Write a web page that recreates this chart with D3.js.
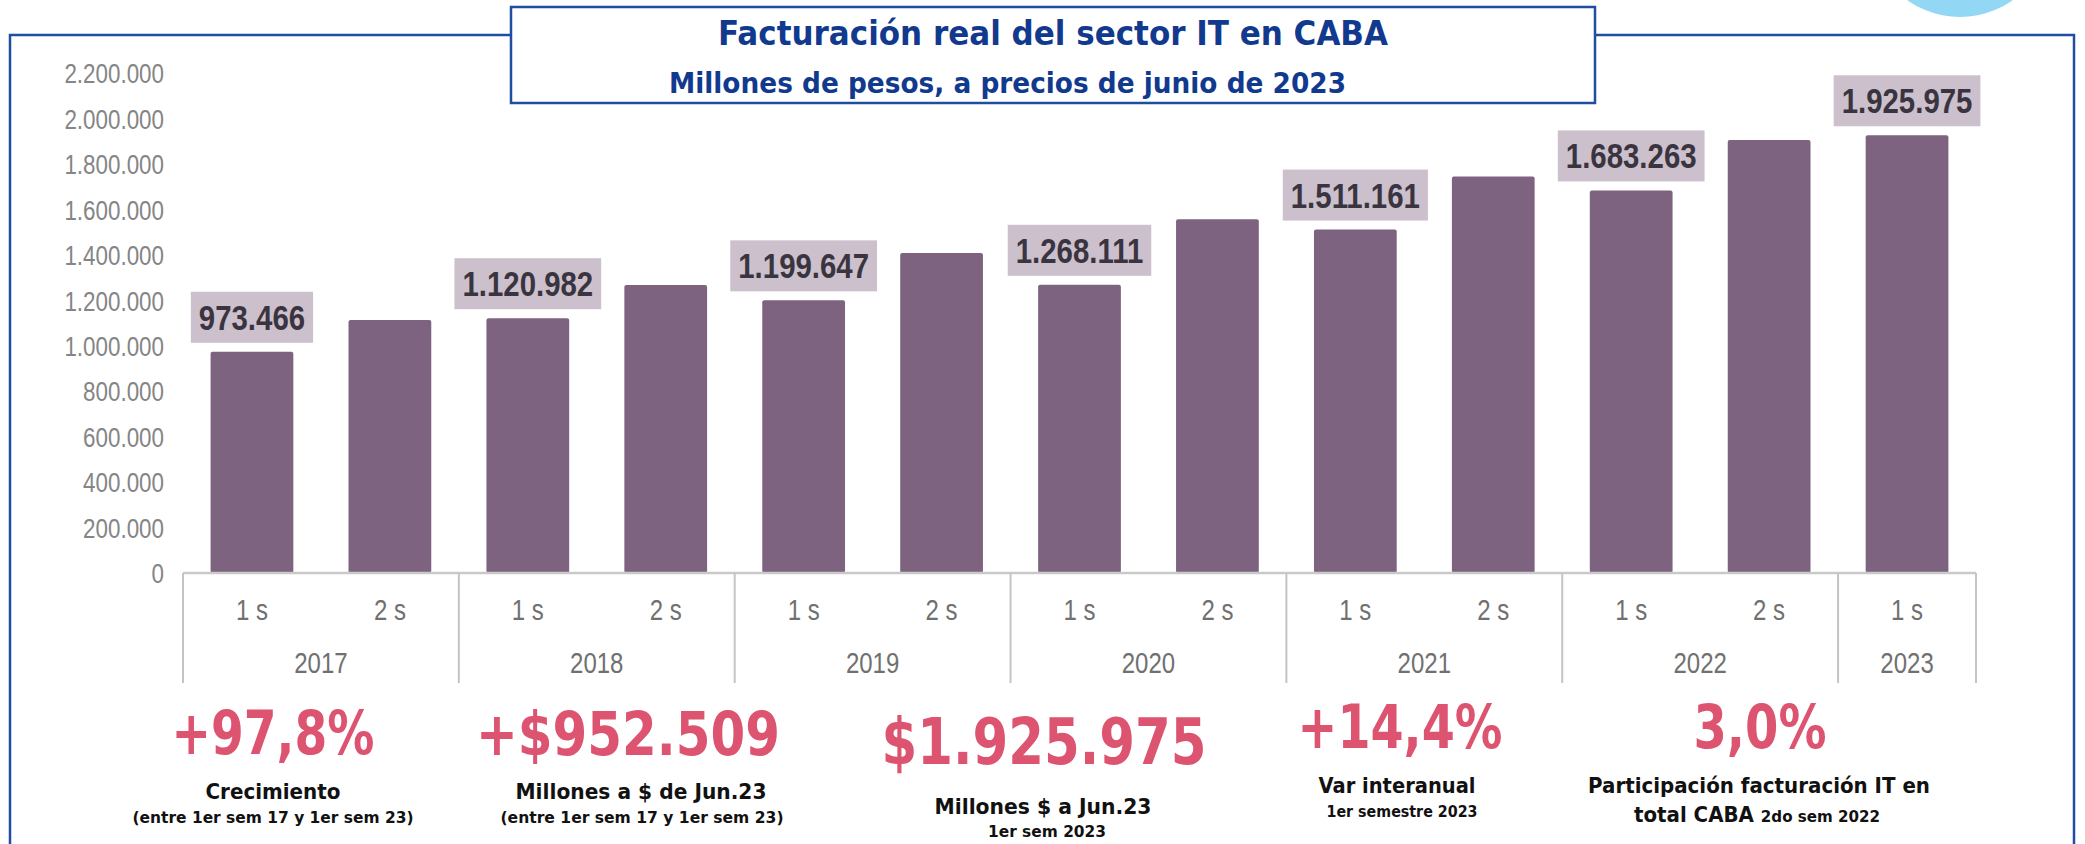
<!DOCTYPE html>
<html>
<head>
<meta charset="utf-8">
<script src="https://cdn.jsdelivr.net/npm/d3@7"></script>
<style>
  html, body { margin: 0; padding: 0; background: #ffffff; }
  svg { display: block; }
</style>
</head>
<body>
<svg id="chart" width="2085" height="844"></svg>
<script>
// ---------------- DATA ----------------
const catYears = ["2017","2017","2018","2018","2019","2019","2020","2020","2021","2021","2022","2022","2023"];
const catSems  = ["1 s","2 s","1 s","2 s","1 s","2 s","1 s","2 s","1 s","2 s","1 s","2 s","1 s"];
const values   = [973466, 1113000, 1120982, 1267000, 1199647, 1408000, 1268111, 1557000, 1511161, 1745000, 1683263, 1905000, 1925975];
const labeledSem = "1 s";
const yTicks   = [0, 200000, 400000, 600000, 800000, 1000000, 1200000, 1400000, 1600000, 1800000, 2000000, 2200000];
const titleText = "Facturación real del sector IT en CABA";
const subtitleText = "Millones de pesos, a precios de junio de 2023";
const kpiValues = ["+97,8%", "+$952.509", "$1.925.975", "+14,4%", "3,0%"];
const kpiLabels = ["Crecimiento", "Millones a $ de Jun.23", "Millones $ a Jun.23", "Var interanual", "Participación facturación IT en"];
const kpiNotes  = ["(entre 1er sem 17 y 1er sem 23)", "(entre 1er sem 17 y 1er sem 23)", "1er sem 2023", "1er semestre 2023", ""];

// ---------------- SETUP ----------------
const svg = d3.select("#chart");
const locale = d3.formatLocale({decimal: ",", thousands: ".", grouping: [3], currency: ["$", ""]});
const fmt = locale.format(",.0f");

const BLUE = "#1f4ea0";
const TITLE_BLUE = "#113a8e";
const PINK = "#dc5470";
const BAR = "#7e6380";
const LABEL_BG = "#cbc0cc";
const ARIAL = "'Liberation Sans', Arial, sans-serif";
const TAHOMA = "'DejaVu Sans', Verdana, sans-serif";

// decorative circle (top right)
svg.append("circle").attr("cx", 1960).attr("cy", -74).attr("r", 91).attr("fill", "#92d8f5");

// outer frame
svg.append("rect").attr("x", 10).attr("y", 35).attr("width", 2064).attr("height", 830)
  .attr("fill", "none").attr("stroke", BLUE).attr("stroke-width", 2.5);

// title box
svg.append("rect").attr("x", 511).attr("y", 7).attr("width", 1084).attr("height", 96)
  .attr("fill", "#ffffff").attr("stroke", BLUE).attr("stroke-width", 2.5);

svg.append("text").attr("x", 718).attr("y", 45)
  .attr("font-family", TAHOMA).attr("font-weight", "bold").attr("font-size", 34)
  .attr("fill", TITLE_BLUE).attr("textLength", 670).attr("lengthAdjust", "spacingAndGlyphs")
  .text(titleText);
svg.append("text").attr("x", 669).attr("y", 93)
  .attr("font-family", TAHOMA).attr("font-weight", "bold").attr("font-size", 29)
  .attr("fill", TITLE_BLUE).attr("textLength", 677).attr("lengthAdjust", "spacingAndGlyphs")
  .text(subtitleText);

// ---------------- SCALES ----------------
const y = d3.scaleLinear().domain([0, 2200000]).range([573, 73]);
const x = d3.scaleBand().domain(d3.range(values.length)).range([183, 1976])
  .paddingInner(0.4).paddingOuter(0.2);
const step = x.step();
const gap = (step - x.bandwidth()) / 2;

// y axis
const yAxis = svg.append("g").attr("transform", "translate(183,0)")
  .call(d3.axisLeft(y).tickValues(yTicks).tickSize(0).tickPadding(19).tickFormat(d => fmt(d)));
yAxis.select(".domain").remove();
const ySx = 0.8;
yAxis.selectAll("text")
  .attr("font-family", ARIAL).attr("font-size", 28).attr("fill", "#858585")
  .attr("x", -19 / ySx).attr("dy", "0.35em")
  .attr("transform", `scale(${ySx},1)`);

// bars
svg.append("g").selectAll("rect").data(values).join("rect")
  .attr("x", (d, i) => x(i))
  .attr("y", d => y(d))
  .attr("width", x.bandwidth())
  .attr("height", d => y(0) - y(d))
  .attr("rx", 2)
  .attr("fill", BAR);

// x axis: baseline, separators, labels
const axisG = svg.append("g");
axisG.append("line").attr("x1", 183).attr("x2", 1976).attr("y1", y(0)).attr("y2", y(0))
  .attr("stroke", "#c9c9c9").attr("stroke-width", 2.5);

// group boundaries
const yearsUnique = Array.from(new Set(catYears));
const groups = yearsUnique.map(yr => {
  const idx = catYears.map((c, i) => c === yr ? i : -1).filter(i => i >= 0);
  return {year: yr, first: idx[0], last: idx[idx.length - 1]};
});
const boundaries = [x(0) - gap].concat(groups.map(g => x(g.last) + x.bandwidth() + gap));
axisG.selectAll("line.sep").data(boundaries).join("line").attr("class", "sep")
  .attr("x1", d => d).attr("x2", d => d).attr("y1", y(0)).attr("y2", 683)
  .attr("stroke", "#c4c4c4").attr("stroke-width", 2);

const xSx = 0.8;
axisG.selectAll("g.sem").data(catSems).join("g").attr("class", "sem")
  .attr("transform", (d, i) => `translate(${x(i) + x.bandwidth() / 2},620) scale(${xSx},1)`)
  .append("text").attr("text-anchor", "middle")
  .attr("font-family", ARIAL).attr("font-size", 30).attr("fill", "#707070")
  .text(d => d);

axisG.selectAll("g.year").data(groups).join("g").attr("class", "year")
  .attr("transform", g => `translate(${(x(g.first) - gap + x(g.last) + x.bandwidth() + gap) / 2},673) scale(${xSx},1)`)
  .append("text").attr("text-anchor", "middle")
  .attr("font-family", ARIAL).attr("font-size", 30).attr("fill", "#707070")
  .text(g => g.year);

// data labels for first semesters
const lblSx = 0.84;
const lblG = svg.append("g");
values.forEach((v, i) => {
  if (catSems[i] !== labeledSem) return;
  const cx = x(i) + x.bandwidth() / 2;
  const boxBottom = y(v) - 9;
  const boxTop = boxBottom - 51;
  const g = lblG.append("g");
  const rect = g.append("rect").attr("fill", LABEL_BG);
  const tg = g.append("g").attr("transform", `translate(${cx},${boxTop + 38}) scale(${lblSx},1)`);
  const t = tg.append("text").attr("text-anchor", "middle")
    .attr("font-family", ARIAL).attr("font-weight", "bold").attr("font-size", 35)
    .attr("fill", "#3a3440").text(fmt(v));
  const w = t.node().getComputedTextLength() * lblSx + 16;
  rect.attr("x", cx - w / 2).attr("y", boxTop).attr("width", w).attr("height", 51);
});

// ---------------- KPI BLOCK ----------------
const kpiLayout = [
  {cx: 273, big: 754, bigSize: 60, bigW: 203, lab: 799, labW: 135, note: 823, noteW: 281},
  {cx: 628, big: 755, bigSize: 60, bigW: 304, lab: 799, labW: 251, note: 823, noteW: 283, labCx: 641, noteCx: 642},
  {cx: 1044, big: 764, bigSize: 64, bigW: 325, lab: 814, labW: 217, note: 837, noteW: 118, labCx: 1043, noteCx: 1047},
  {cx: 1400, big: 748, bigSize: 61, bigW: 205, lab: 793, labW: 157, note: 817, noteW: 151, labCx: 1397, noteCx: 1402},
  {cx: 1760, big: 748, bigSize: 61, bigW: 133, lab: 793, labW: 342, note: 822, noteW: 246, labCx: 1759, noteCx: 1757}
];
const kpiG = svg.append("g");
kpiValues.forEach((val, i) => {
  const L = kpiLayout[i];
  kpiG.append("text").attr("x", L.cx).attr("y", L.big).attr("text-anchor", "middle")
    .attr("font-family", TAHOMA).attr("font-weight", "bold").attr("font-size", L.bigSize)
    .attr("fill", PINK).attr("textLength", L.bigW).attr("lengthAdjust", "spacingAndGlyphs")
    .text(val);
  kpiG.append("text").attr("x", L.labCx || L.cx).attr("y", L.lab).attr("text-anchor", "middle")
    .attr("font-family", TAHOMA).attr("font-weight", "bold").attr("font-size", 21)
    .attr("fill", "#111111").attr("textLength", L.labW).attr("lengthAdjust", "spacingAndGlyphs")
    .text(kpiLabels[i]);
  if (kpiNotes[i]) {
    kpiG.append("text").attr("x", L.noteCx || L.cx).attr("y", L.note).attr("text-anchor", "middle")
      .attr("font-family", TAHOMA).attr("font-weight", "bold").attr("font-size", 16)
      .attr("fill", "#111111").attr("textLength", L.noteW).attr("lengthAdjust", "spacingAndGlyphs")
      .text(kpiNotes[i]);
  }
});
// last KPI second line with mixed sizes
const L5 = kpiLayout[4];
const t5 = kpiG.append("text").attr("x", L5.noteCx).attr("y", L5.note).attr("text-anchor", "middle")
  .attr("font-family", TAHOMA).attr("font-weight", "bold").attr("fill", "#111111")
  .attr("textLength", L5.noteW).attr("lengthAdjust", "spacingAndGlyphs");
t5.append("tspan").attr("font-size", 21).text("total CABA ");
t5.append("tspan").attr("font-size", 16).text("2do sem 2022");
</script>
</body>
</html>
